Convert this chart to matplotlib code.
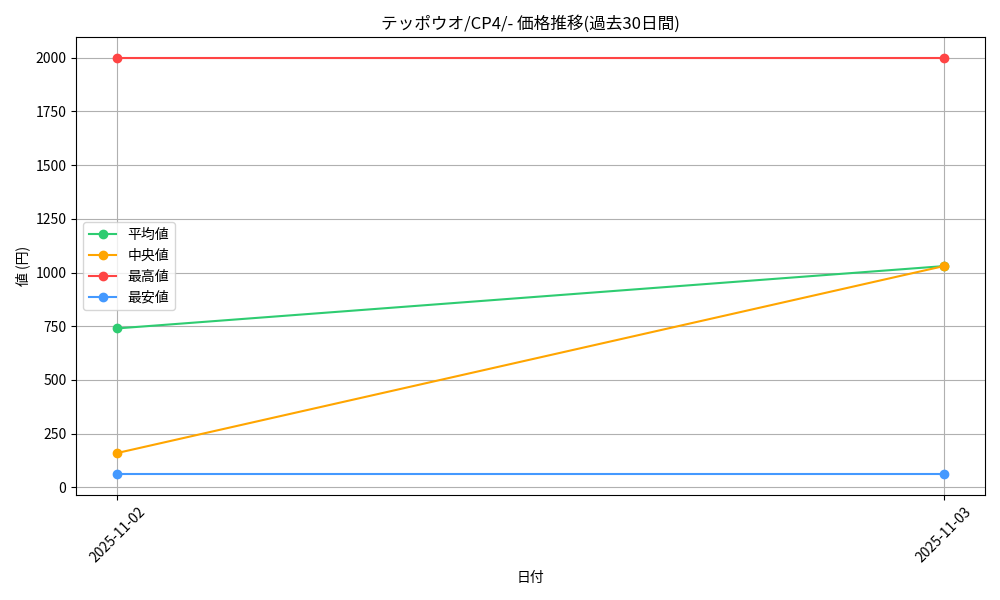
import matplotlib
matplotlib.use("Agg")
import matplotlib.pyplot as plt

plt.rcParams['font.family'] = ['Noto Sans CJK JP', 'DejaVu Sans']

dates = ["2025-11-02", "2025-11-03"]
avg_vals = [740, 1030]
median_vals = [160, 1030]
max_vals = [2000, 2000]
min_vals = [60, 60]

fig, ax = plt.subplots(figsize=(10, 6), dpi=100)
x = list(range(len(dates)))
ax.plot(x, avg_vals, marker='o', color='#2ecc71', label='平均値')
ax.plot(x, median_vals, marker='o', color='#ffa500', label='中央値')
ax.plot(x, max_vals, marker='o', color='#ff4444', label='最高値')
ax.plot(x, min_vals, marker='o', color='#4499ff', label='最安値')
ax.set_xticks(x)
ax.set_xticklabels(dates, rotation=45)
ax.set_title('テッポウオ/CP4/- 価格推移(過去30日間)')
ax.set_xlabel('日付')
ax.set_ylabel('値 (円)')
ax.grid(True)
ax.legend(loc='center left')
fig.tight_layout()
fig.savefig('out.png')
